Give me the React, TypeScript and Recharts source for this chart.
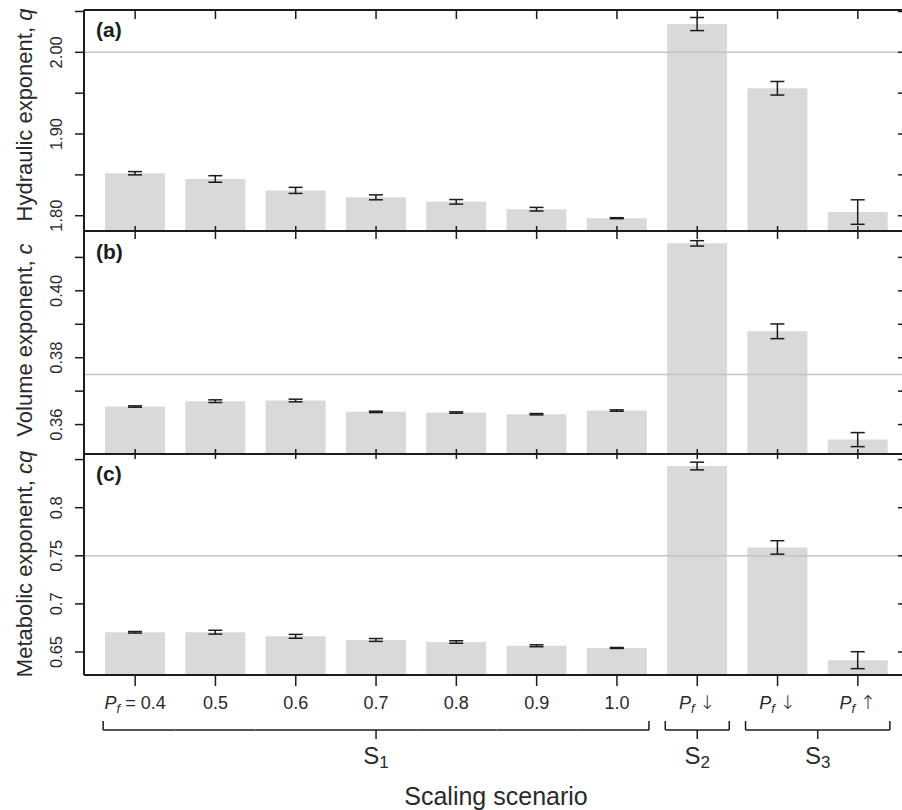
import { BarChart, Bar, XAxis, YAxis, ErrorBar, ReferenceLine } from "recharts";

// scenarios along the x axis
const scenarios = ["p04", "p05", "p06", "p07", "p08", "p09", "p10", "s2down", "s3down", "s3up"];
const groups = ["S1", "S1", "S1", "S1", "S1", "S1", "S1", "S2", "S3", "S3"];
const tickText = ["= 0.4", "0.5", "0.6", "0.7", "0.8", "0.9", "1.0", "\u2193", "\u2193", "\u2191"];
const withPf = [true, false, false, false, false, false, false, true, true, true];

// (a) hydraulic exponent q
const hydraulicQ = [1.852, 1.845, 1.831, 1.8225, 1.817, 1.808, 1.797, 2.0346, 1.956, 1.8045];
const hydraulicQErr = [0.002, 0.004, 0.0037, 0.003, 0.0028, 0.0022, 0.0006, 0.008, 0.0083, 0.015];
// (b) volume exponent c
const volumeC = [0.3654, 0.367, 0.3672, 0.3638, 0.3636, 0.3631, 0.3642, 0.4142, 0.3879, 0.3555];
const volumeCErr = [0.0002, 0.0004, 0.0004, 0.0002, 0.0002, 0.0002, 0.0002, 0.0008, 0.0022, 0.0021];
// (c) metabolic exponent cq
const metabolicCQ = [0.6705, 0.6706, 0.6663, 0.6625, 0.6604, 0.6565, 0.6542, 0.8433, 0.7587, 0.6415];
const metabolicCQErr = [0.0008, 0.002, 0.002, 0.0015, 0.0013, 0.001, 0.0005, 0.004, 0.007, 0.0088];

const yTicksA = [1.8, 1.85, 1.9, 1.95, 2.0, 2.05];
const yLabelsA = ["1.80", "", "1.90", "", "2.00", ""];
const yTicksB = [0.36, 0.37, 0.38, 0.39, 0.4, 0.41];
const yLabelsB = ["0.36", "", "0.38", "", "0.40", ""];
const yTicksC = [0.65, 0.7, 0.75, 0.8, 0.85];
const yLabelsC = ["0.65", "0.7", "0.75", "0.8", ""];

const rows = scenarios.map((s, i) => ({
  s,
  q: hydraulicQ[i], qErr: hydraulicQErr[i],
  c: volumeC[i], cErr: volumeCErr[i],
  cq: metabolicCQ[i], cqErr: metabolicCQErr[i],
}));

const W = 920;
const H = 810;
const LEFT = 84;
const RIGHT_AX = 18;
const PAD_L = 11;
const PAD_R = 4;
const BAND = (W - LEFT - RIGHT_AX - PAD_L - PAD_R) / scenarios.length;
const INK = "#1c1c1c";
const TXT = "#2a2a2a";
const FONT = "'Liberation Sans', Arial, Helvetica, sans-serif";

const panels = [
  { key: "q", err: "qErr", domain: [1.7813, 2.0518], ticks: yTicksA, labels: yLabelsA, ref: 2.0, top: 10, bottom: 231 },
  { key: "c", err: "cErr", domain: [0.3512, 0.4179], ticks: yTicksB, labels: yLabelsB, ref: 0.375, top: 231, bottom: 454 },
  { key: "cq", err: "cqErr", domain: [0.6261, 0.8558], ticks: yTicksC, labels: yLabelsC, ref: 0.75, top: 454, bottom: 675 },
];

const crossTick = (up: number, down: number) => (props: any) => (
  <line x1={props.x} x2={props.x} y1={props.y - up} y2={props.y + down} stroke={INK} strokeWidth={1.5} />
);

function ScenarioTick(props: any) {
  const { x, y, payload } = props;
  const i = props.index ?? payload.index;
  const g = groups[i];
  const first = groups.indexOf(g);
  const last = groups.lastIndexOf(g);
  const mid = (first + last) / 2;
  const by = y + 55;
  const left = i === first ? x - 32 : x - BAND / 2;
  const right = i === last ? x + 32 : x + BAND / 2;
  const isArrow = withPf[i] && i > 0;
  let cx: number | null = null;
  if (Math.abs(i - mid) < 0.01) cx = x;
  else if (Math.abs(i + 0.5 - mid) < 0.01) cx = x + BAND / 2;
  return (
    <g>
      <line x1={x} x2={x} y1={y} y2={y + 11} stroke={INK} strokeWidth={1.5} />
      <text x={x} y={y + 34} textAnchor="middle" fontSize={18} fill={TXT} fontFamily={FONT}>
        {withPf[i] && <tspan fontStyle="italic">P</tspan>}
        {withPf[i] && <tspan fontStyle="italic" fontSize={13} dy={4}>f</tspan>}
        {withPf[i] && <tspan dy={-4}> </tspan>}
        {isArrow ? (
          <tspan fontFamily="'DejaVu Sans', sans-serif" fontWeight={200} fontSize={19} fill={TXT}>
            {tickText[i]}
          </tspan>
        ) : (
          <tspan>{tickText[i]}</tspan>
        )}
      </text>
      <line x1={left} x2={right} y1={by} y2={by} stroke={INK} strokeWidth={1.5} />
      {i === first && <line x1={left} x2={left} y1={by - 9} y2={by} stroke={INK} strokeWidth={1.5} />}
      {i === last && <line x1={right} x2={right} y1={by - 9} y2={by} stroke={INK} strokeWidth={1.5} />}
      {cx !== null && (
        <g>
          <line x1={cx} x2={cx} y1={by} y2={by + 9} stroke={INK} strokeWidth={1.5} />
          <text x={cx} y={y + 89} textAnchor="middle" fontSize={24} fill={TXT} fontFamily={FONT}>
            {g.slice(0, 1)}
            <tspan fontSize={17} dy={4}>{g.slice(1)}</tspan>
          </text>
        </g>
      )}
    </g>
  );
}

function Panel({ p, index }: { p: any; index: number }) {
  const isFirst = index === 0;
  const isLast = index === panels.length - 1;
  const bottomH = isLast ? 130 : 30;
  const topH = isFirst ? 10 : 0;
  const leftTick = (props: any) => {
    const k = p.ticks.indexOf(props.payload.value);
    const label = k >= 0 ? p.labels[k] : "";
    return (
      <g>
        <line x1={props.x - 9} x2={props.x} y1={props.y} y2={props.y} stroke={INK} strokeWidth={1.5} />
        {label && (
          <text transform={`translate(${props.x - 22},${props.y}) rotate(-90)`} textAnchor="middle" fontSize={16.5} fill={TXT} fontFamily={FONT}>
            {label}
          </text>
        )}
      </g>
    );
  };
  const rightTick = (props: any) => (
    <line x1={props.x - 4} x2={props.x + 6} y1={props.y} y2={props.y} stroke={INK} strokeWidth={1.5} />
  );
  return (
    <div style={{ position: "absolute", left: 0, top: 0 }}>
      <BarChart
        width={W}
        height={H}
        data={rows}
        barSize={60}
        margin={{ top: p.top - topH, bottom: H - p.bottom - bottomH, left: 0, right: 0 }}
      >
        {isFirst && (
          <XAxis xAxisId="top" orientation="top" dataKey="s" height={topH} padding={{ left: PAD_L, right: PAD_R }}
            axisLine={{ stroke: INK, strokeWidth: 2 }} tickLine={false} tickSize={0} tickMargin={0} interval={0}
            tick={crossTick(0, 9)} />
        )}
        <XAxis dataKey="s" height={bottomH} padding={{ left: PAD_L, right: PAD_R }}
          axisLine={{ stroke: INK, strokeWidth: 2 }} tickLine={false} tickSize={0} tickMargin={0} interval={0}
          tick={isLast ? ScenarioTick : crossTick(5, isFirst ? 8 : 5)} />
        <YAxis yAxisId="l" type="number" width={LEFT} domain={p.domain} ticks={p.ticks} allowDataOverflow
          axisLine={{ stroke: INK, strokeWidth: 2 }} tickLine={false} tickSize={0} tickMargin={0} interval={0}
          tick={leftTick} />
        <YAxis yAxisId="r" orientation="right" type="number" width={RIGHT_AX} domain={p.domain} ticks={p.ticks} allowDataOverflow
          axisLine={false} tickLine={false} tickSize={0} tickMargin={0} interval={0} tick={rightTick} />
        <Bar yAxisId="l" dataKey={p.key} fill="#d9d9db" isAnimationActive={false}>
          <ErrorBar dataKey={p.err} width={7} stroke={INK} strokeWidth={1.5} direction="y" />
        </Bar>
        <ReferenceLine yAxisId="l" y={p.ref} stroke="#c4c4c4" strokeWidth={1.5} />
      </BarChart>
    </div>
  );
}

const titles = [
  { text: "Hydraulic exponent, ", sym: "q", cy: 115, letter: "(a)", ly: 37 },
  { text: "Volume exponent, ", sym: "c", cy: 340, letter: "(b)", ly: 259 },
  { text: "Metabolic exponent, ", sym: "cq", cy: 564, letter: "(c)", ly: 481 },
];

export default function App() {
  return (
    <div style={{ position: "absolute", left: 0, top: 0, width: 902, height: 810, overflow: "hidden", background: "#fff", fontFamily: FONT }}>
      {panels.map((p, i) => (
        <Panel key={p.key} p={p} index={i} />
      ))}
      <svg width={902} height={810} style={{ position: "absolute", left: 0, top: 0, pointerEvents: "none" }}>
        {titles.map((t) => (
          <g key={t.letter}>
            <text transform={`translate(32,${t.cy}) rotate(-90)`} textAnchor="middle" fontSize={22} fill={TXT} fontFamily={FONT}>
              {t.text}
              <tspan fontStyle="italic">{t.sym}</tspan>
            </text>
            <text x={96} y={t.ly} fontSize={21} fontWeight="bold" fill={INK} fontFamily={FONT}>
              {t.letter}
            </text>
          </g>
        ))}
        <text x={496} y={805} textAnchor="middle" fontSize={25} fill={TXT} fontFamily={FONT}>
          Scaling scenario
        </text>
      </svg>
    </div>
  );
}
